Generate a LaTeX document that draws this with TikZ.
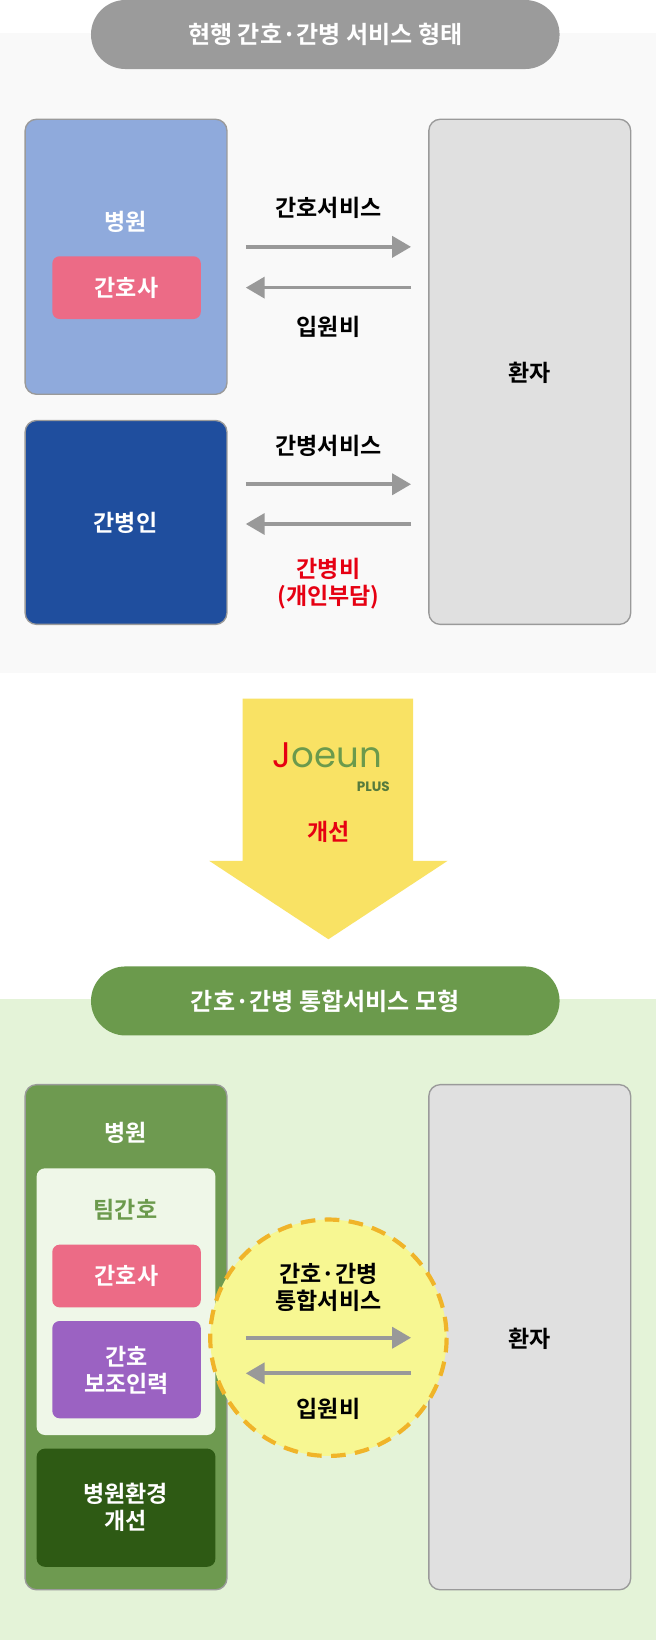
\documentclass[tikz,border=0pt]{standalone}
\usepackage{fontspec}
\setmainfont{Noto Sans CJK KR}[BoldFont={Noto Sans CJK KR Bold}]
\newfontfamily\logofont{Poppins}
\usetikzlibrary{arrows.meta}
\definecolor{tgray}{HTML}{9B9B9B}
\definecolor{hosp}{HTML}{8FAADC}
\definecolor{nurse}{HTML}{EC6B86}
\definecolor{carer}{HTML}{1F4E9E}
\definecolor{pat}{HTML}{E0E0E0}
\definecolor{bgg}{HTML}{F9F9F9}
\definecolor{bgl}{HTML}{E4F3D8}
\definecolor{tgreen}{HTML}{6B9A4C}
\definecolor{hgreen}{HTML}{6E9A50}
\definecolor{inner}{HTML}{EFF7E8}
\definecolor{purp}{HTML}{9B62C2}
\definecolor{dgreen}{HTML}{2E5A14}
\definecolor{yel}{HTML}{F9E264}
\definecolor{cyel}{HTML}{F7F792}
\definecolor{corange}{HTML}{F0B429}
\definecolor{ared}{HTML}{E60012}
\definecolor{arrg}{HTML}{999999}
\definecolor{bord}{HTML}{9A9A9A}
\tikzset{
 box/.style={draw=bord,line width=1.3pt,rounded corners=11pt},
 pill/.style={rounded corners=7pt},
 lab/.style={font=\bfseries\fontsize{22}{26}\selectfont,align=center},
 wlab/.style={lab,text=white},
 arr/.style={draw=arrg,line width=3.5pt,-{Triangle[length=18pt,width=20pt]}},
 title/.style={rounded corners=33pt,font=\bfseries\fontsize{23}{27}\selectfont,text=white}
}
\begin{document}
\begin{tikzpicture}[x=1pt,y=-1pt]
\useasboundingbox (0,0) rectangle (627,1568);
\fill[white] (0,0) rectangle (627,1568);
\fill[bgg] (0,32) rectangle (627,643);
\fill[bgl] (0,955) rectangle (627,1568);
% top
\node[title,fill=tgray,minimum width=448pt,minimum height=66pt] (t1) at (311,33) {현행 간호·간병 서비스 형태};
\draw[box,fill=hosp] (24,114) rectangle (217,377);
\node[wlab] (h1) at (120,212) {병원};
\fill[nurse,pill] (50,245) rectangle (192,305);
\node[wlab] (n1) at (121,275) {간호사};
\draw[box,fill=carer] (24,402) rectangle (217,597);
\node[wlab] (c1) at (120,500) {간병인};
\draw[box,fill=pat] (410,114) rectangle (603,597);
\node[lab] (p1) at (506,356) {환자};
\coordinate (a1) at (235,236); \coordinate (b1) at (393,236);
\coordinate (a2) at (393,275); \coordinate (b2) at (235,275);
\coordinate (a3) at (235,463); \coordinate (b3) at (393,463);
\coordinate (a4) at (393,501); \coordinate (b4) at (235,501);
\draw[arr] (a1)--(b1); \draw[arr] (a2)--(b2);
\draw[arr] (a3)--(b3); \draw[arr] (a4)--(b4);
\node[lab] (l1) at (314,199) {간호서비스};
\node[lab] (l2) at (314,313) {입원비};
\node[lab] (l3) at (314,426) {간병서비스};
\node[lab,text=ared] (l4) at (314,558) {간병비\\(개인부담)};
% middle arrow
\fill[yel] (232,668) -- (395,668) -- (395,823) -- (428,823) -- (314,898) -- (200,823) -- (232,823) -- cycle;
\node[font=\logofont\fontsize{34}{34}\selectfont,inner sep=0] (logo) at (313,722) {\textcolor{ared}{J}\textcolor{tgreen}{oeun}};
\node[font=\logofont\bfseries\fontsize{13}{13}\selectfont,text=tgreen!80!black,inner sep=0] (plus) at (357,752) {PLUS};
\node[lab,text=ared] (imp) at (314,795) {개선};
% bottom
\node[title,fill=tgreen,minimum width=448pt,minimum height=66pt] (t2) at (311,957) {간호·간병 통합서비스 모형};
\draw[box,fill=hgreen] (24,1037) rectangle (217,1520);
\node[wlab] (h2) at (120,1083) {병원};
\fill[inner,rounded corners=8pt] (35,1117) rectangle (206,1372);
\node[lab,text=tgreen] (team) at (120,1157) {팀간호};
\fill[nurse,pill] (50,1190) rectangle (192,1250);
\node[wlab] (n2) at (121,1220) {간호사};
\fill[purp,pill] (50,1263) rectangle (192,1356);
\node[wlab] (aux) at (121,1310) {간호\\보조인력};
\fill[dgreen,rounded corners=8pt] (35,1385) rectangle (206,1498);
\node[wlab] (env) at (120,1441) {병원환경\\개선};
\draw[box,fill=pat] (410,1037) rectangle (603,1520);
\node[lab] (p2) at (506,1280) {환자};
\draw[fill=cyel,draw=corange,line width=4pt,dash pattern=on 14pt off 9pt] (314,1279) circle (113);
\node[lab] (l5) at (314,1231) {간호·간병\\통합서비스};
\coordinate (a5) at (235,1279); \coordinate (b5) at (393,1279);
\coordinate (a6) at (393,1313); \coordinate (b6) at (235,1313);
\draw[arr] (a5)--(b5); \draw[arr] (a6)--(b6);
\node[lab] (l6) at (314,1347) {입원비};
\end{tikzpicture}
\end{document}
